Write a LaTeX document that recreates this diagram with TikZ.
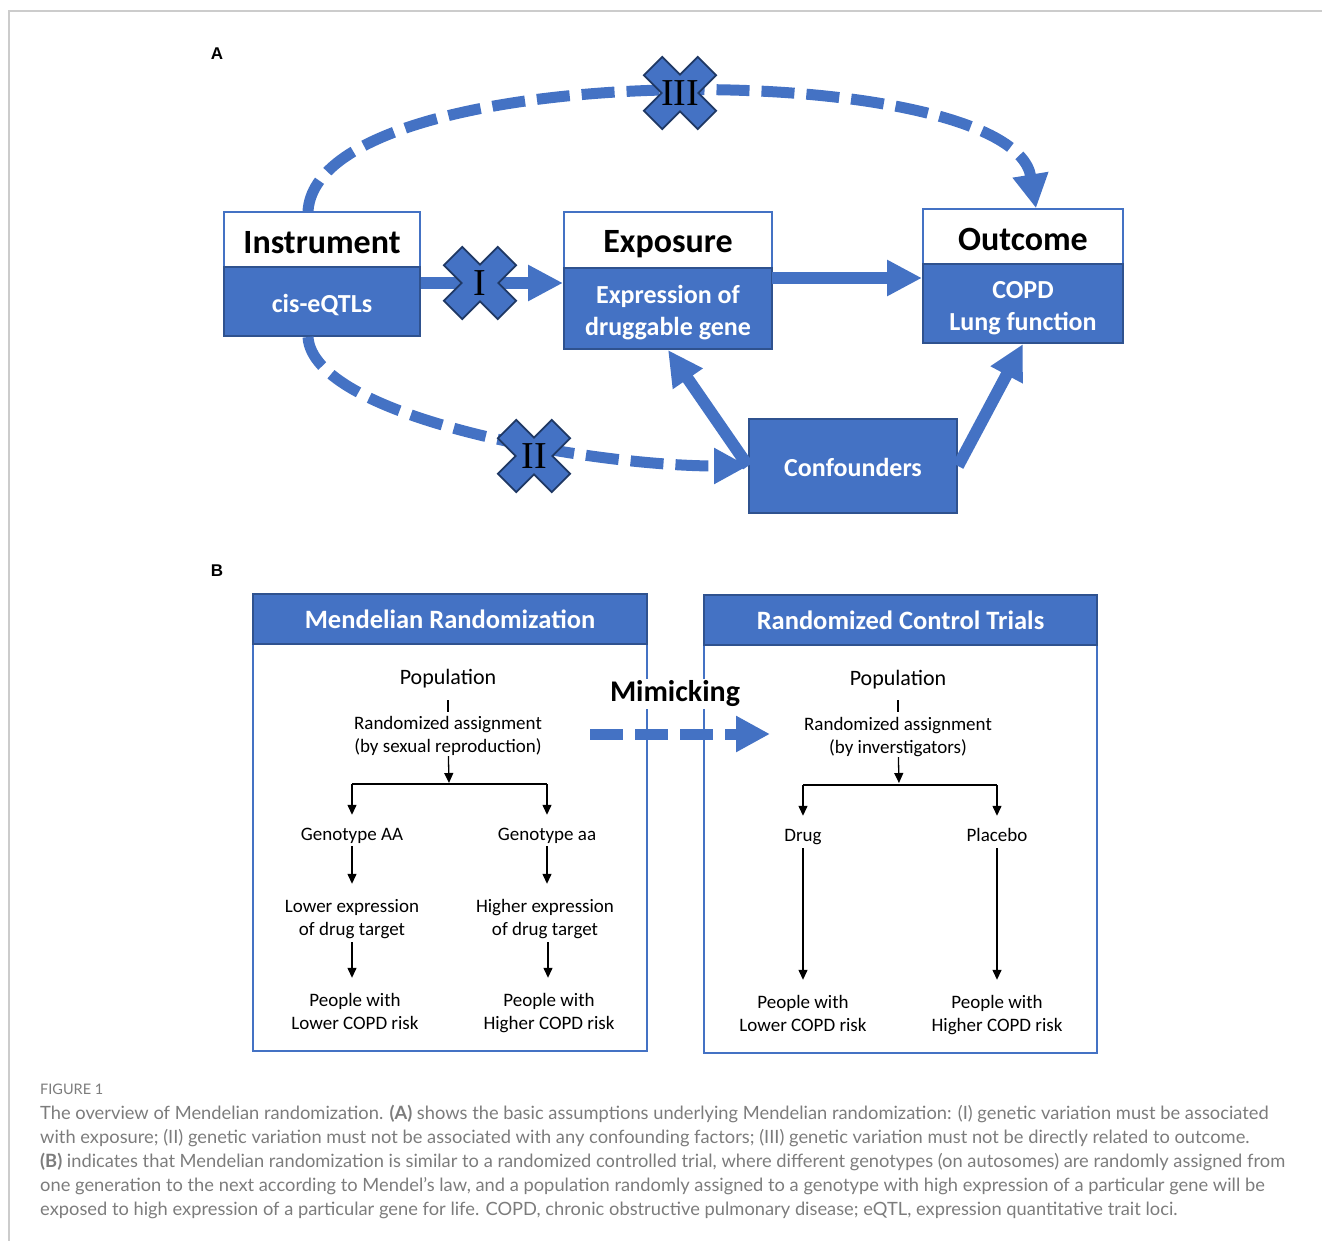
\documentclass[tikz,border=0pt]{standalone}
\usepackage{fontspec}
\setmainfont{Carlito}
\newfontfamily\capfont{Lato}
\newfontfamily\numfont{Liberation Serif}
\newfontfamily\panelfont{Liberation Sans}
\usetikzlibrary{arrows.meta,calc}
\definecolor{mrblue}{HTML}{4472C4}
\definecolor{mrdark}{HTML}{2F528F}
\definecolor{mrnavy}{HTML}{1F3864}
\definecolor{capgray}{HTML}{7C7C7C}
\definecolor{framegray}{HTML}{CCCCCC}

\newcommand\headsize{\fontsize{34}{40}\selectfont\bfseries}
\newcommand\bodysize{\fontsize{26}{32}\selectfont\bfseries}
\newcommand\titlesize{\fontsize{26.5}{30}\selectfont\bfseries}
\newcommand\popsize{\fontsize{22}{26}\selectfont}
\newcommand\smallsize{\fontsize{19}{23}\selectfont}
\newcommand\capsize{\capfont\fontsize{18.3}{24}\selectfont}
\newcommand\smallstack[2]{\begin{tabular}{@{}c@{}}#1\\#2\end{tabular}}
\newcommand\bodystack[2]{\begin{tabular}{@{}c@{}}\rule{0pt}{31pt}#1\\#2\end{tabular}}

\tikzset{
  crossmark/.pic={
    \draw[crossshape] (0,-18.4) -- (17.7,-36.1) -- (36.1,-17.7) -- (18.4,0)
      -- (36.1,17.7) -- (17.7,36.1) -- (0,18.4) -- (-17.7,36.1)
      -- (-36.1,17.7) -- (-18.4,0) -- (-36.1,-17.7) -- (-17.7,-36.1) -- cycle;
    \node[numlab] (-num) {#1};
  }
}

\begin{document}
\begin{tikzpicture}[
    x=1pt, y=-1pt,
    headbox/.style={draw=mrblue, line width=1.5pt, fill=white, inner sep=0pt, font=\headsize,
      execute at begin node={\rule{0pt}{28.5pt}}},
    bodybox/.style={draw=mrdark, line width=2pt, fill=mrblue, text=white, inner sep=0pt, font=\bodysize},
    titlebox/.style={draw=mrdark, line width=2pt, fill=mrblue, text=white, inner sep=0pt, font=\titlesize},
    panelbox/.style={draw=mrblue, line width=1.5pt, inner sep=0pt},
    solidarrow/.style={mrblue, line width=12pt, -{Triangle[length=35pt,width=34pt]}},
    dasharrow/.style={mrblue, line width=11pt, dash pattern=on 33pt off 12pt, -{Triangle[length=34pt,width=34pt]}},
    crossshape/.style={draw=mrnavy, fill=mrblue, line width=1.8pt, line join=miter},
    numlab/.style={font=\numfont\fontsize{38}{40}\selectfont, inner sep=0pt},
    panellab/.style={font=\panelfont\bfseries\fontsize{17}{20}\selectfont, inner sep=0pt},
    poptext/.style={font=\popsize, inner sep=0pt,
      execute at begin node={\rule{0pt}{16pt}}, execute at end node={\rule[-5.5pt]{0pt}{5.5pt}}},
    smalltext/.style={font=\smallsize, inner sep=0pt,
      execute at begin node={\rule{0pt}{14pt}}, execute at end node={\rule[-5pt]{0pt}{5pt}}},
    flow/.style={line width=1.3pt, -{Triangle[length=10pt,width=9pt]}},
    tickline/.style={line width=1.3pt},
    captext/.style={font=\capsize, text=capgray, anchor=base west, inner sep=0pt}
  ]
  \useasboundingbox (0,0) rectangle (1322,1241);

  % frame
  \draw[framegray, line width=1.5pt] (9,1241) -- (9,11) -- (1322,11);

  % ---------- panel A ----------
  \node[panellab] (labA) at (217,54) {A};

  % boxes
  \node[headbox, minimum width=196pt, minimum height=55pt] (insthead) at (322,239.5) {Instrument};
  \node[bodybox, minimum width=196pt, minimum height=69pt, execute at begin node={\rule{0pt}{25pt}}] (instbody) at (322,301.5) {cis-eQTLs};
  \node[headbox, minimum width=208pt, minimum height=56pt, execute at begin node={\rule{0pt}{31pt}}] (exphead) at (668,240) {Exposure};
  \node[bodybox, minimum width=208pt, minimum height=81pt] (expbody) at (668,308.5) {\bodystack{Expression of}{druggable gene}};
  \node[headbox, minimum width=200pt, minimum height=55pt] (outhead) at (1023,236.5) {Outcome};
  \node[bodybox, minimum width=200pt, minimum height=79pt] (outbody) at (1023,303.5) {\bodystack{COPD}{Lung function}};
  \node[bodybox, minimum width=208pt, minimum height=94pt, execute at begin node={\rule{0pt}{20.5pt}}] (conf) at (853,466) {Confounders};

  % solid arrows
  \coordinate (crossI) at (480,283);
  \coordinate (eoline) at (772,278);
  \draw[solidarrow] (instbody.east |- crossI) -- (expbody.west |- crossI);
  \draw[solidarrow] (eoline) -- (outbody.west |- eoline);
  \draw[solidarrow] (conf.west) -- (expbody.south);
  \draw[solidarrow] (conf.east) -- (outbody.south);

  % dashed arrows
  \draw[dasharrow] ([xshift=-14pt]insthead.north) .. controls +(10,-157) and +(-25,-152) .. ([xshift=13pt]outhead.north);
  \draw[dasharrow] ([xshift=-14pt]instbody.south) .. controls +(5,80) and +(-160,0) .. (conf.west);

  % crosses
  \pic (markI) at (crossI) {crossmark=I};
  \pic (markII) at (534,456) {crossmark=II};
  \pic (markIII) at (680,93) {crossmark=III};

  % ---------- panel B ----------
  \node[panellab] (labB) at (217,571) {B};

  \coordinate (mimstart) at (590,734);
  \coordinate (mimend) at (770,734);
  \draw[dasharrow] (mimstart) -- (mimend);

  \node[panelbox, minimum width=394pt, minimum height=407pt] (mrbody) at (450,847.5) {};
  \node[titlebox, minimum width=394pt, minimum height=50pt] (mrtitle) at (450,619) {Mendelian Randomization};
  \node[panelbox, minimum width=393pt, minimum height=408pt] (rctbody) at (900.5,849) {};
  \node[titlebox, minimum width=393pt, minimum height=50pt] (rcttitle) at (900.5,620) {Randomized Control Trials};

  \node[fill=white, inner sep=2pt, font=\fontsize{30}{34}\selectfont\bfseries] (mimic) at (675,694) {Mimicking};

  % Mendelian randomization flow
  \node[poptext] (mrpop) at (448,679.5) {Population};
  \node[smalltext] (mrassign) at (448,736) {\smallstack{Randomized assignment}{(by sexual reproduction)}};
  \coordinate (mrfork) at (449,784);
  \node[smalltext] (mrAA) at (352,835.5) {Genotype AA};
  \node[smalltext] (mraa) at (547,835.5) {Genotype aa};
  \node[smalltext] (mrlowexp) at (352,919) {\smallstack{Lower expression}{of drug target}};
  \node[smalltext] (mrhighexp) at (545,919) {\smallstack{Higher expression}{of drug target}};
  \node[smalltext] (mrlowrisk) at (355,1013) {\smallstack{People with}{Lower COPD risk}};
  \node[smalltext] (mrhighrisk) at (549,1013) {\smallstack{People with}{Higher COPD risk}};

  \draw[tickline, shorten <=9.75pt, shorten >=1pt] (mrpop) -- (mrassign);
  \draw[flow, shorten <=-3pt, shorten >=1pt] (mrassign) -- (mrfork);
  \draw[tickline] (mrfork -| mrAA) -- (mrfork -| mraa);
  \draw[flow, shorten >=11pt] (mrfork -| mrAA) -- (mrAA);
  \draw[flow, shorten >=11pt] (mrfork -| mraa) -- (mraa);
  \draw[flow, shorten <=1pt, shorten >=12pt] (mrAA) -- (mrAA |- mrlowexp.north);
  \draw[flow, shorten <=1pt, shorten >=12pt] (mraa) -- (mraa |- mrhighexp.north);
  \draw[flow, shorten >=12pt] (mrlowexp) -- (mrlowexp |- mrlowrisk.north);
  \draw[flow, shorten >=12pt] (mrhighexp.south -| 548,0) -- (mrhighrisk.north -| 548,0);

  % randomized control trial flow
  \node[poptext] (rctpop) at (898,680.5) {Population};
  \node[smalltext] (rctassign) at (898,737) {\smallstack{Randomized assignment}{(by inverstigators)}};
  \coordinate (rctfork) at (899,785);
  \node[smalltext] (rctdrug) at (803,836.5) {Drug};
  \node[smalltext] (rctplacebo) at (997,836.5) {Placebo};
  \node[smalltext] (rctlowrisk) at (803,1015) {\smallstack{People with}{Lower COPD risk}};
  \node[smalltext] (rcthighrisk) at (997,1015) {\smallstack{People with}{Higher COPD risk}};

  \draw[tickline, shorten <=8.75pt, shorten >=2pt] (rctpop) -- (rctassign);
  \draw[flow, shorten <=-3pt, shorten >=2pt] (rctassign) -- (rctfork);
  \draw[tickline] (rctfork -| rctdrug) -- (rctfork -| rctplacebo);
  \draw[flow, shorten >=11pt] (rctfork -| rctdrug) -- (rctdrug);
  \draw[flow, shorten >=11pt] (rctfork -| rctplacebo) -- (rctplacebo);
  \draw[flow, shorten <=2pt, shorten >=12pt] (rctdrug) -- (rctlowrisk);
  \draw[flow, shorten <=2pt, shorten >=12pt] (rctplacebo) -- (rcthighrisk);

  % ---------- caption ----------
  \node[captext, font=\capfont\fontsize{14.5}{16}\selectfont] (capfig) at (40,1094) {FIGURE 1};
  \node[captext] (cap1) at (40,1119) {The overview of Mendelian randomization. \textbf{(A)} shows the basic assumptions underlying Mendelian randomization: (I) genetic variation must be associated};
  \node[captext] (cap2) at (40,1143) {with exposure; (II) genetic variation must not be associated with any confounding factors; (III) genetic variation must not be directly related to outcome.};
  \node[captext] (cap3) at (40,1167) {\textbf{(B)} indicates that Mendelian randomization is similar to a randomized controlled trial, where different genotypes (on autosomes) are randomly assigned from};
  \node[captext] (cap4) at (40,1191) {one generation to the next according to Mendel’s law, and a population randomly assigned to a genotype with high expression of a particular gene will be};
  \node[captext] (cap5) at (40,1215) {exposed to high expression of a particular gene for life. COPD, chronic obstructive pulmonary disease; eQTL, expression quantitative trait loci.};
\end{tikzpicture}
\end{document}
